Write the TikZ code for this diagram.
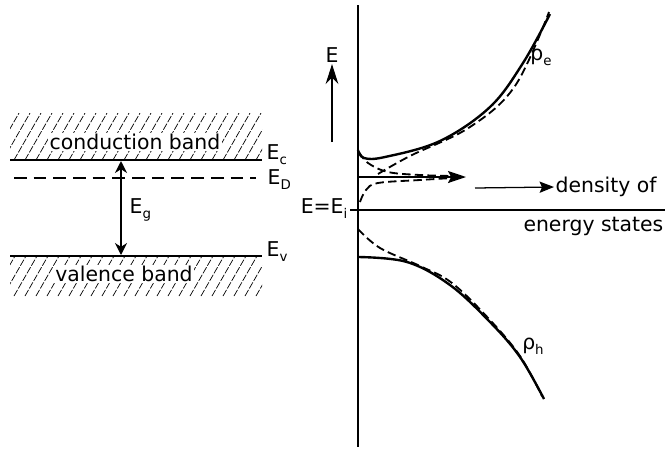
\documentclass[tikz,border=0pt]{standalone}
\usepackage{fontspec}
\setmainfont{DejaVu Sans}
\usetikzlibrary{arrows.meta, positioning}

\newcommand{\lowidx}[1]{\raisebox{-0.45ex}{\fontsize{9.5}{10}\selectfont #1}}

\begin{document}
\begin{tikzpicture}[
    x=0.025cm, y=-0.025cm,
    every node/.style={font=\fontsize{14.5}{16}\selectfont, inner sep=1pt},
    level/.style={line width=2pt},
    hatch/.style={line width=0.5pt, dash pattern=on 5pt off 1.2pt},
    axis/.style={line width=1.4pt},
    curve/.style={line width=1.7pt},
    dcurve/.style={line width=1.3pt, dash pattern=on 6pt off 3pt},
    bigtip/.style={-{Stealth[length=3.6mm, width=2.8mm, inset=0.6mm]}}
]
\useasboundingbox (0,0) rectangle (665,449);

% === Band diagram (left) ===
\begin{scope}
  \clip (10,113) rectangle (262,160);
  \foreach \x in {-30,-19,...,270} {
    \draw[hatch] (\x,160) -- ++(27,-47);
  }
\end{scope}
\begin{scope}
  \clip (10,256) rectangle (262,296);
  \foreach \x in {-30,-19,...,270} {
    \draw[hatch] (\x,296) -- ++(23,-40);
  }
\end{scope}

\node[fill=white] (cb) at (135,142) {conduction band};
\node[fill=white] (vb) at (124,274) {valence band};

\draw[level] (10,160) -- (262,160);
\draw[level] (10,256) -- (262,256);
\draw[line width=1pt, dash pattern=on 9pt off 5pt] (14,178) -- (256,178);

\node[anchor=west] (Ec) at (265,155) {E\lowidx{c}};
\node[anchor=west] (ED) at (266,180) {E\lowidx{D}};
\node[anchor=west] (Ev) at (265,252) {E\lowidx{v}};

% gap arrow
\coordinate (gtop) at (121,161);
\coordinate (gbot) at (121,255);
\draw[line width=1.3pt, {Stealth[length=3mm, width=3mm]}-{Stealth[length=3mm, width=3mm]}] (gtop) -- (gbot);
\node[anchor=west] (Eg) at (128,210) {E\lowidx{g}};

% === Density of states (right) ===
\draw[axis] (358,5) -- (358,447);
\draw[axis] (350,210) -- (665,210);
\node[anchor=east] (Ei) at (349,209) {E{=}E\lowidx{i}};

% energy arrow
\node (E) at (332,55) {E};
\coordinate (Ebase) at (332,142);
\draw[line width=0.8pt, -{Stealth[length=5mm, width=3.2mm]}] (Ebase) -- (E.south);

% conduction band states
\draw[curve] plot[smooth, tension=0.6] coordinates
    {(358,150) (364,158) (385,157) (440,141) (490,107) (523,63) (550,14)};
\draw[dcurve] plot[smooth, tension=0.6] coordinates
    {(378,174) (410,156) (470,127) (515,86) (549,12)};
\node (rhoe) at (541,57) {ρ\lowidx{e}};

% donor level
\draw[dcurve] plot[smooth, tension=0.6] coordinates
    {(359,152) (368,163) (388,172) (420,175) (452,176)};
\draw[dcurve] plot[smooth, tension=0.6] coordinates
    {(360,202) (366,190) (378,183) (420,180) (452,178)};
\coordinate (Dstart) at (358,177);
\coordinate (Dend) at (466,177);
\draw[line width=1.4pt, -{Stealth[length=4.5mm, width=3mm, inset=0.8mm]}] (Dstart) -- (Dend);

% valence band states
\draw[curve] plot[smooth, tension=0.6] coordinates
    {(358,257) (407,262) (450,285) (490,322) (520,357) (544,399)};
\draw[dcurve] plot[smooth, tension=0.6] coordinates
    {(358,229) (380,248) (420,266) (452,283) (490,320) (520,356) (542,396)};
\node (rhoh) at (533,346) {ρ\lowidx{h}};

% axis caption
\node[anchor=west] (dens) at (554,187) {density of};
\node[anchor=east] (states) at (665,226) {energy states};
\coordinate (dstart) at (475,188);
\draw[line width=0.9pt, bigtip] (dstart) -- (dens.west);

\end{tikzpicture}
\end{document}
